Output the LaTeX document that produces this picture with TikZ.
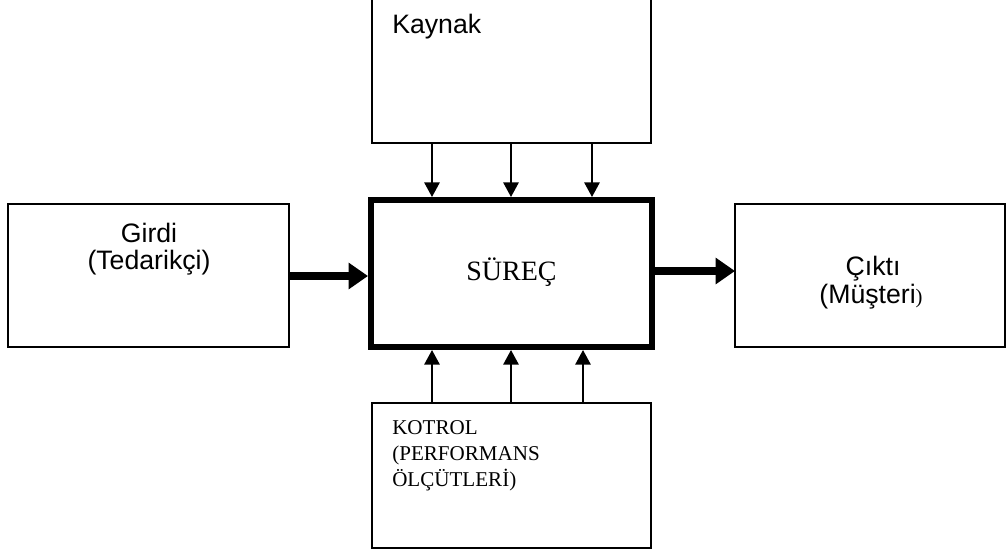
\documentclass[tikz,border=0pt]{standalone}
\usepackage{fontspec}
\setmainfont{Liberation Serif}
\setsansfont{Liberation Sans}
\usetikzlibrary{arrows.meta}
\begin{document}
\begin{tikzpicture}[x=0.75pt,y=-0.75pt,
  box/.style={draw,line width=0.8pt,rectangle,inner sep=0pt,outer sep=0pt},
  thinarrow/.style={line width=1.5pt,-{Triangle[width=11.5pt,length=11pt]}},
  thickarrow/.style={line width=5.5pt,-{Triangle[width=19pt,length=14.5pt]}},
  sanstext/.style={font=\sffamily\fontsize{20}{22}\selectfont,inner sep=0pt},
  serifsmall/.style={font=\fontsize{15.8}{19.5}\selectfont,inner sep=0pt,align=left}]
\useasboundingbox (0,0) rectangle (1006,551);
\fill[white] (0,0) rectangle (1006,551);
% boxes
\node[box,minimum width=209.25pt,minimum height=112.5pt] (kaynak) at (511.5,68) {};
\node[draw,line width=4.5pt,rectangle,inner sep=0pt,minimum width=210.75pt,minimum height=110.25pt] (surec) at (511.5,273.5) {};
\node[box,minimum width=210.75pt,minimum height=107.25pt] (girdi) at (148.5,275.5) {};
\node[box,minimum width=202.5pt,minimum height=107.25pt] (cikti) at (870,275.5) {};
\node[box,minimum width=209.25pt,minimum height=108.75pt] (kontrol) at (511.5,475.5) {};
% texts
\node[sanstext,anchor=base west] (tkaynak) at (392,33) {Kaynak};
\node[font=\fontsize{21}{24}\selectfont,inner sep=0pt,anchor=base] (tsurec) at (511.5,280) {SÜREÇ};
\node[sanstext,anchor=base] (tgirdi1) at (149,242) {Girdi};
\node[sanstext,anchor=base] (tgirdi2) at (149,269) {(Tedarikçi)};
\node[sanstext,anchor=base] (tcikti1) at (873,275) {Çıktı};
\node[sanstext,anchor=base] (tcikti2) at (871,303) {(Müşteri{\rmfamily\fontsize{15.5}{18}\selectfont)}};
\node[serifsmall,anchor=base west] (tkontrol) at (392,486) {KOTROL\\(PERFORMANS\\ÖLÇÜTLERİ)};
% column coordinates
\coordinate (c1) at (432,0);
\coordinate (c2) at (511,0);
\coordinate (c3) at (592,0);
\coordinate (d3) at (583,0);
\coordinate (rin) at (0,276);
\coordinate (rout) at (0,271);
% arrows
\draw[thinarrow] (kaynak.south -| c1) -- (surec.north -| c1);
\draw[thinarrow] (kaynak.south -| c2) -- (surec.north -| c2);
\draw[thinarrow] (kaynak.south -| c3) -- (surec.north -| c3);
\draw[thinarrow] (kontrol.north -| c1) -- (surec.south -| c1);
\draw[thinarrow] (kontrol.north -| c2) -- (surec.south -| c2);
\draw[thinarrow] (kontrol.north -| d3) -- (surec.south -| d3);
\draw[thickarrow] (girdi.east |- rin) -- (surec.west |- rin);
\draw[thickarrow] (surec.east |- rout) -- (cikti.west |- rout);
\end{tikzpicture}
\end{document}
